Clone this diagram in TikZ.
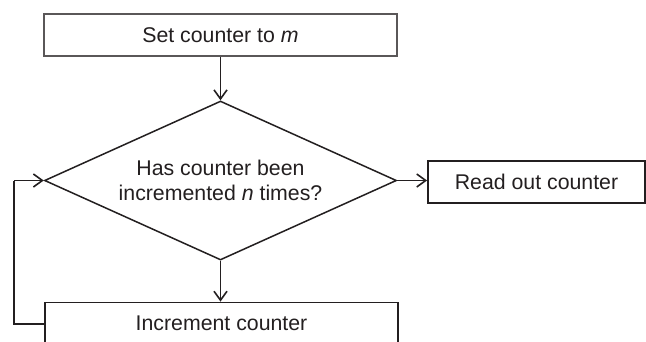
\documentclass[tikz,border=0pt]{standalone}
\usepackage{fontspec}
\setmainfont{Liberation Sans}
\usetikzlibrary{shapes.geometric,arrows.meta}
\definecolor{ink}{HTML}{231F20}
\begin{document}
\begin{tikzpicture}[x=1pt,y=-1pt,
  every node/.style={font=\fontsize{21.3}{24.5}\selectfont, text=ink},
  box/.style={draw=ink, line width=1.8pt, rectangle, inner sep=0pt, anchor=center},
  decide/.style={draw=ink, line width=1.5pt, diamond, aspect=2.21, inner sep=0pt, minimum width=352pt, minimum height=159pt, align=center},
  conn/.style={draw=ink, line width=1.8pt, -{Straight Barb[length=9pt,width=13pt,line width=1.6pt]}},
  plain/.style={draw=ink, line width=1.8pt}]
\clip (0,0) rectangle (646,341);
\fill[white] (0,0) rectangle (646,341);
\node[box, draw=ink!75, minimum width=353pt, minimum height=42pt] (set) at (220.5,35) {Set counter to \textit{m}};
\node[decide] (ask) at (220.5,180.5) {Has counter been\\incremented \textit{n} times?};
\node[box, minimum width=217pt, minimum height=42pt] (read) at (536.5,182) {Read out counter};
\node[box, minimum width=353pt, minimum height=42pt] (inc) at (221.5,323.5) {Increment counter};
\coordinate (c1) at (14,324);
\coordinate (c2) at (14,180.5);
\draw[conn] (set.south) -- (ask.north);
\draw[conn] (ask.east) -- (ask.east -| read.west);
\draw[conn] (ask.south) -- (ask.south |- inc.north);
\draw[plain] (inc.west |- c1) -- (c1) -- (c2);
\draw[conn] (c2) -- (ask.west);
\end{tikzpicture}
\end{document}
